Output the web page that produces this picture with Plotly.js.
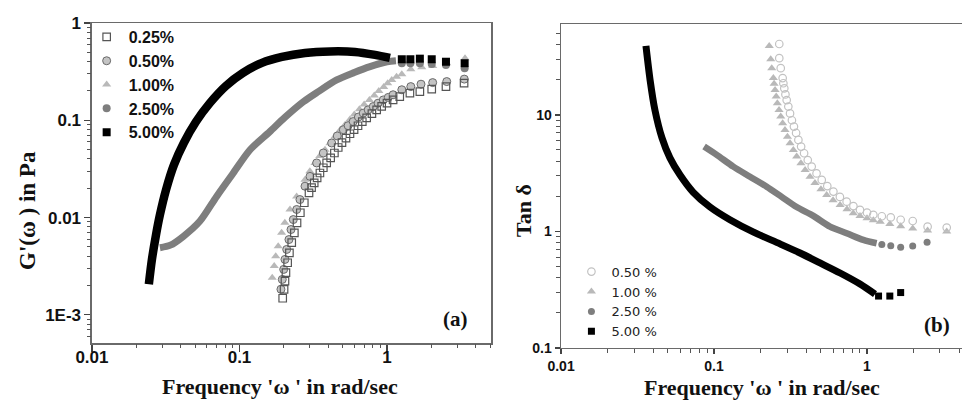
<!DOCTYPE html>
<html><head><meta charset="utf-8">
<script src="https://cdn.plot.ly/plotly-3.0.1.min.js"></script>
<style>html,body{margin:0;padding:0;background:#fff}#chart{width:962px;height:401px}</style>
</head><body><div id="chart"></div>
<script>
// ---------- Panel (a): G'(omega) ----------
const gLabels = ['0.25%', '0.50%', '1.00%', '2.50%', '5.00%'];
const gX025 = [0.1963,0.2005,0.2034,0.2065,0.212,0.218,0.226,0.2355,0.2455,0.2585,0.275,0.296,0.308,0.321,0.336,0.351,0.37,0.39,0.415,0.44,0.467,0.495,0.527,0.561,0.598,0.636,0.68,0.728,0.79,0.851,0.92,1.0,1.1,1.22,1.43,1.67,2.01,2.51,3.33];
const gY025 = [0.00148,0.00183,0.00222,0.00271,0.00343,0.00434,0.00551,0.00697,0.00883,0.0112,0.0142,0.0179,0.0203,0.0227,0.0256,0.0287,0.0325,0.0364,0.041,0.0461,0.0525,0.0588,0.0657,0.0727,0.08,0.0879,0.097,0.106,0.117,0.128,0.139,0.150,0.162,0.175,0.19,0.197,0.209,0.222,0.241];
const gX050 = [0.191,0.195,0.1994,0.2034,0.209,0.2165,0.2235,0.2317,0.2443,0.257,0.278,0.3006,0.3335,0.37,0.4217,0.46,0.506,0.545,0.59,0.64,0.69,0.745,0.807,0.87,0.944,1.02,1.10,1.26,1.45,1.70,2.04,2.54,3.34];
const gY050 = [0.00183,0.00231,0.00293,0.00371,0.0047,0.00594,0.00753,0.00953,0.0121,0.0153,0.021,0.0265,0.0364,0.0461,0.0584,0.069,0.080,0.088,0.097,0.108,0.1185,0.128,0.1385,0.15,0.162,0.172,0.183,0.206,0.222,0.235,0.244,0.25,0.265];
const gX100 = [0.1667,0.172,0.176,0.183,0.193,0.203,0.22,0.244,0.278,0.30,0.325,0.35,0.38,0.41,0.444,0.48,0.52,0.56,0.60,0.65,0.70,0.76,0.82,0.88,0.95,1.01,1.077,1.16,1.26,1.45,1.72,2.04,2.54,3.38];
const gY100 = [0.0024,0.00317,0.0040,0.00508,0.00697,0.00883,0.0121,0.0165,0.0245,0.030,0.0364,0.043,0.0498,0.058,0.0682,0.079,0.090,0.102,0.115,0.13,0.145,0.162,0.180,0.20,0.22,0.24,0.26,0.28,0.298,0.335,0.351,0.362,0.386,0.434];
const gX250 = [0.0289,0.034,0.0416,0.054,0.070,0.0908,0.118,0.160,0.203,0.271,0.342,0.456,0.60,0.767,1.0,1.15];
const gY250 = [0.0049,0.0052,0.0064,0.0092,0.0165,0.0287,0.0498,0.076,0.107,0.155,0.197,0.26,0.31,0.356,0.40,0.41];
const gX250tail = [1.26,1.44,1.67,2.01,2.51,3.36];
const gY250tail = [0.386,0.386,0.386,0.38,0.37,0.343];
const gX500 = [0.0243,0.0255,0.0272,0.0289,0.0318,0.036,0.042,0.0507,0.0631,0.081,0.1056,0.142,0.194,0.278,0.411,0.607,0.83,1.047];
const gY500 = [0.00206,0.00371,0.0067,0.0107,0.0194,0.035,0.0588,0.0966,0.151,0.226,0.307,0.389,0.448,0.492,0.51,0.504,0.47,0.438];
const gX500tail = [1.26,1.44,1.67,2.01,2.51,3.36];
const gY500tail = [0.424,0.424,0.43,0.424,0.40,0.386];
const gXTickVals = [0.01, 0.1, 1];
const gXTickText = ['0.01', '0.1', '1'];
const gYTickVals = [0.001, 0.01, 0.1, 1];
const gYTickText = ['1E-3', '0.01', '0.1', '1'];
const gXMinor = [0.02,0.03,0.04,0.05,0.06,0.07,0.08,0.09,0.2,0.3,0.4,0.5,0.6,0.7,0.8,0.9,2,3,4,5];
const gYMinor = [0.0006,0.0007,0.0008,0.0009,0.002,0.003,0.004,0.005,0.006,0.007,0.008,0.009,0.02,0.03,0.04,0.05,0.06,0.07,0.08,0.09,0.2,0.3,0.4,0.5,0.6,0.7,0.8,0.9];

// ---------- Panel (b): tan delta ----------
const tLabels = ['0.50 %', '1.00 %', '2.50 %', '5.00 %'];
const tX050 = [0.267,0.267,0.273,0.281,0.284,0.288,0.293,0.2985,0.306,0.314,0.323,0.333,0.344,0.356,0.371,0.388,0.41,0.435,0.468,0.506,0.55,0.603,0.665,0.736,0.815,0.90,1.0,1.10,1.25,1.43,1.66,1.99,2.49,3.32];
const tY050 = [40.6,30.7,25.2,20.7,18.7,16.9,15.0,13.4,11.8,10.3,9.0,7.94,7.0,6.10,5.35,4.69,4.1,3.60,3.15,2.77,2.45,2.20,1.98,1.80,1.65,1.53,1.45,1.39,1.35,1.32,1.26,1.23,1.10,1.08];
const tX100 = [0.2296,0.2348,0.2384,0.2443,0.247,0.2506,0.255,0.2594,0.266,0.273,0.281,0.291,0.302,0.314,0.33,0.347,0.37,0.394,0.424,0.457,0.50,0.545,0.60,0.667,0.74,0.813,0.90,1.0,1.1,1.22,1.41,1.66,1.99,2.49,3.32];
const tY100 = [39.1,30.1,25.2,20.7,18.5,16.4,14.4,12.6,11.0,9.67,8.5,7.43,6.5,5.71,5.0,4.39,3.85,3.37,2.95,2.60,2.3,2.06,1.85,1.69,1.55,1.43,1.36,1.30,1.25,1.21,1.16,1.11,1.06,1.02,1.0];
const tX250 = [0.0861,0.1042,0.1337,0.172,0.221,0.277,0.347,0.446,0.573,0.736,0.946,1.156];
const tY250 = [5.35,4.54,3.60,2.95,2.42,1.98,1.62,1.36,1.10,0.966,0.846,0.792];
const tX250tail = [1.25,1.43,1.66,1.99,2.47];
const tY250tail = [0.773,0.755,0.731,0.751,0.807];
const tX500 = [0.0359,0.0382,0.0411,0.0457,0.0515,0.060,0.0729,0.0942,0.127,0.18,0.27,0.365,0.493,0.667,0.90,1.128];
const tY500 = [39.1,19.97,11.0,6.35,4.28,3.05,2.18,1.62,1.26,0.99,0.782,0.653,0.537,0.44,0.354,0.29];
const tX500tail = [1.19,1.41,1.66];
const tY500tail = [0.279,0.279,0.299];
const tXTickVals = [0.01, 0.1, 1];
const tXTickText = ['0.01', '0.1', '1'];
const tYTickVals = [0.1, 1, 10];
const tYTickText = ['0.1', '1', '10'];
const tXMinor = [0.02,0.03,0.04,0.05,0.06,0.07,0.08,0.09,0.2,0.3,0.4,0.5,0.6,0.7,0.8,0.9,2,3,4];
const tYMinor = [0.2,0.3,0.4,0.5,0.6,0.7,0.8,0.9,2,3,4,5,6,7,8,9,20,30,40,50];

const BLACK = '#000000', DARK = '#7e7e7e', LIGHT = '#b9b9b9';

// invisible copy of a series, only so each minor-tick overlay axis gets a subplot
function carrier(xs, ys, xa, ya) {
  return {x:xs, y:ys, xaxis:xa, yaxis:ya, mode:'markers', marker:{opacity:0, size:1},
          showlegend:false, hoverinfo:'skip'};
}

const traces = [
  carrier(gX500tail, gY500tail, 'x3', 'y'),
  carrier(gX500tail, gY500tail, 'x', 'y3'),
  carrier(tX500tail, tY500tail, 'x4', 'y2'),
  carrier(tX500tail, tY500tail, 'x2', 'y4'),
  // panel a (light series drawn first)
  {x:gX100, y:gY100, mode:'markers', name:gLabels[2], legendrank:3, legend:'legend',
   marker:{symbol:'triangle-up', size:8, color:LIGHT}},
  {x:gX050, y:gY050, mode:'markers', name:gLabels[1], legendrank:2, legend:'legend',
   marker:{symbol:'circle', size:8, color:'#c4c4c4', line:{color:'#6a6a6a', width:1}}},
  {x:gX025, y:gY025, mode:'markers', name:gLabels[0], legendrank:1, legend:'legend',
   marker:{symbol:'square-open', size:7.5, color:'#555555', line:{width:1.2}}},
  {x:gX250, y:gY250, mode:'lines', showlegend:false, legend:'legend',
   line:{color:DARK, width:7, shape:'spline', smoothing:0.8}},
  {x:gX250tail, y:gY250tail, mode:'markers', name:gLabels[3], legendrank:4, legend:'legend',
   marker:{symbol:'circle', size:8, color:DARK}},
  {x:gX500, y:gY500, mode:'lines', showlegend:false, legend:'legend',
   line:{color:BLACK, width:8.5, shape:'spline', smoothing:0.8}},
  {x:gX500tail, y:gY500tail, mode:'markers', name:gLabels[4], legendrank:5, legend:'legend',
   marker:{symbol:'square', size:8, color:BLACK}},
  // panel b
  {x:tX100, y:tY100, xaxis:'x2', yaxis:'y2', mode:'markers', name:tLabels[1], legendrank:2, legend:'legend2',
   marker:{symbol:'triangle-up', size:8, color:LIGHT}},
  {x:tX050, y:tY050, xaxis:'x2', yaxis:'y2', mode:'markers', name:tLabels[0], legendrank:1, legend:'legend2',
   marker:{symbol:'circle-open', size:7.5, color:'#c2c2c2', line:{width:1.2}}},
  {x:tX250, y:tY250, xaxis:'x2', yaxis:'y2', mode:'lines', showlegend:false, legend:'legend2',
   line:{color:DARK, width:6.5, shape:'spline', smoothing:0.8}},
  {x:tX250tail, y:tY250tail, xaxis:'x2', yaxis:'y2', mode:'markers', name:tLabels[2], legendrank:3, legend:'legend2',
   marker:{symbol:'circle', size:7, color:DARK}},
  {x:tX500, y:tY500, xaxis:'x2', yaxis:'y2', mode:'lines', showlegend:false, legend:'legend2',
   line:{color:BLACK, width:7, shape:'spline', smoothing:0.8}},
  {x:tX500tail, y:tY500tail, xaxis:'x2', yaxis:'y2', mode:'markers', name:tLabels[3], legendrank:4, legend:'legend2',
   marker:{symbol:'square', size:7, color:BLACK}}
];

function axis(extra) {
  return Object.assign({
    type:'log', showline:true, mirror:true, linecolor:'#6a6a6a', linewidth:1.5,
    ticks:'outside', tickcolor:'#444', tickwidth:1.3, showgrid:false, zeroline:false, tickmode:'array'
  }, extra);
}
function minorAxis(extra) {
  return Object.assign({
    type:'log', showline:false, showgrid:false, zeroline:false, showticklabels:false,
    ticks:'outside', ticklen:4, tickcolor:'#555', tickwidth:1, tickmode:'array'
  }, extra);
}
const fontA = {family:'Liberation Sans, Arial, sans-serif', size:17, weight:'bold', color:'#111'};
const fontB = {family:'Liberation Sans, Arial, sans-serif', size:14, weight:'bold', color:'#111'};
const serifT = {family:'Liberation Serif, Times New Roman, serif', size:22, weight:'bold', color:'#111'};

const layout = {
  width:962, height:401, margin:{l:0, r:0, t:0, b:0},
  paper_bgcolor:'#fff', plot_bgcolor:'#fff', showlegend:true,
  xaxis:axis({domain:[0.0956,0.5104], range:[-2,0.705], anchor:'y', ticklen:7,
    tickvals:gXTickVals, ticktext:gXTickText, tickfont:fontA, ticklabelstandoff:-9}),
  yaxis:axis({domain:[0.1446,0.9426], range:[-3.29,0], anchor:'x', ticklen:6,
    tickvals:gYTickVals, ticktext:gYTickText, tickfont:fontA}),
  xaxis2:axis({domain:[0.5832,1], range:[-2,0.621], anchor:'y2', ticklen:5,
    tickvals:tXTickVals, ticktext:tXTickText, tickfont:fontB}),
  yaxis2:axis({domain:[0.1322,0.9401], range:[-1,1.78], anchor:'x2', ticklen:5,
    tickvals:tYTickVals, ticktext:tYTickText, tickfont:fontB}),
  xaxis3:minorAxis({overlaying:'x', anchor:'y', side:'bottom', range:[-2,0.705], tickvals:gXMinor}),
  yaxis3:minorAxis({overlaying:'y', anchor:'x', side:'left', range:[-3.29,0], tickvals:gYMinor}),
  xaxis4:minorAxis({overlaying:'x2', anchor:'y2', side:'bottom', range:[-2,0.621], tickvals:tXMinor}),
  yaxis4:minorAxis({overlaying:'y2', anchor:'x2', side:'left', range:[-1,1.78], tickvals:tYMinor}),
  legend:{x:0.088, y:0.95, xanchor:'left', yanchor:'top', bgcolor:'rgba(0,0,0,0)', traceorder:'normal',
    itemwidth:34, font:{family:'Liberation Sans, Arial, sans-serif', size:16, weight:'bold', color:'#111'}, tracegroupgap:0},
  legend2:{x:0.594, y:0.36, xanchor:'left', yanchor:'top', bgcolor:'rgba(0,0,0,0)', traceorder:'normal',
    font:{family:'DejaVu Sans, sans-serif', size:13, color:'#222'}, tracegroupgap:0},
  annotations:[
    {text:"Frequency 'ω ' in rad/sec", xref:'paper', yref:'paper', x:280/962, y:1-386/401,
     xanchor:'center', yanchor:'middle', showarrow:false, font:serifT},
    {text:"Frequency 'ω ' in rad/sec", xref:'paper', yref:'paper', x:762/962, y:1-387/401,
     xanchor:'center', yanchor:'middle', showarrow:false, font:serifT},
    {text:"G'(ω ) in Pa", xref:'paper', yref:'paper', x:27/962, y:1-211/401, textangle:-90,
     xanchor:'center', yanchor:'middle', showarrow:false, font:Object.assign({}, serifT, {size:23})},
    {text:"Tan δ", xref:'paper', yref:'paper', x:523/962, y:1-211/401, textangle:-90,
     xanchor:'center', yanchor:'middle', showarrow:false, font:serifT},
    {text:'(a)', xref:'paper', yref:'paper', x:455/962, y:1-319/401,
     xanchor:'center', yanchor:'middle', showarrow:false,
     font:{family:'Liberation Serif, Times New Roman, serif', size:21, weight:'bold', color:'#111'}},
    {text:'(b)', xref:'paper', yref:'paper', x:937/962, y:1-325/401,
     xanchor:'center', yanchor:'middle', showarrow:false,
     font:{family:'Liberation Serif, Times New Roman, serif', size:21, weight:'bold', color:'#111'}}
  ]
};

Plotly.newPlot('chart', traces, layout, {staticPlot:true, displayModeBar:false});
</script></body></html>
